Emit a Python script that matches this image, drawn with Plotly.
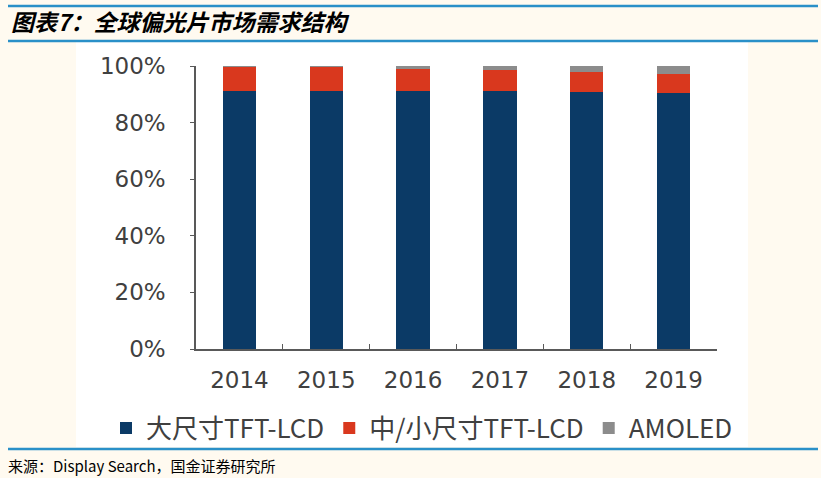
import plotly.graph_objects as go

# 年份和各类占比
years = ["2014", "2015", "2016", "2017", "2018", "2019"]
large_tft = [0.91, 0.91, 0.91, 0.91, 0.908, 0.905]
small_tft = [0.088, 0.087, 0.08, 0.075, 0.071, 0.065]
amoled = [0.002, 0.003, 0.01, 0.015, 0.021, 0.03]

series = [
    ("大尺寸TFT-LCD", large_tft, "#0b3a66"),
    ("中/小尺寸TFT-LCD", small_tft, "#d9381e"),
    ("AMOLED", amoled, "#8c8c8c"),
]

tick_font = dict(family="DejaVu Sans", size=23, color="#404040")
line_blue = "#2a90c8"

# 绘图区: x 196..717, y 66..349 (像素)
PL, PR, PT, PB = 196, 717, 66, 349
PW, PH = PR - PL, PB - PT


def px(x):
    return (x - PL) / PW


def py(y):
    return (PB - y) / PH


fig = go.Figure()
for name, vals, color in series:
    fig.add_trace(go.Bar(
        x=years, y=vals, name=name,
        marker=dict(color=color, line=dict(width=0)),
        width=0.385,
    ))

fig.update_layout(
    width=821, height=478,
    barmode="stack",
    paper_bgcolor="#fffaf0",
    plot_bgcolor="white",
    margin=dict(l=PL, r=821 - PR, t=PT, b=478 - PB, autoexpand=False),
    showlegend=True,
    legend=dict(
        orientation="h", x=px(106), xref="paper", xanchor="left",
        y=py(428), yanchor="middle",
        font=dict(family="Noto Sans CJK SC", size=26, color="#404040"),
        itemwidth=30, traceorder="normal",
        bgcolor="rgba(0,0,0,0)",
    ),
    font=dict(family="Noto Sans CJK SC"),
)

fig.update_xaxes(
    type="category",
    showline=True, linecolor="#595959", linewidth=1.5,
    ticks="inside", ticklen=5, tickcolor="#595959",
    tickson="boundaries",
    tickfont=tick_font,
    ticklabelstandoff=10,
    showgrid=False,
)
fig.update_yaxes(
    range=[0, 1],
    tickvals=[0, 0.2, 0.4, 0.6, 0.8, 1.0],
    tickformat=".0%",
    showline=True, linecolor="#595959", linewidth=1.5,
    ticks="outside", ticklen=4, tickcolor="#595959",
    tickfont=tick_font,
    showgrid=False, zeroline=False,
    ticklabelstandoff=20,
)

# 白色图片区域与蓝色分隔线
fig.add_shape(type="rect", xref="paper", yref="paper",
              x0=px(76), x1=px(748), y0=py(447), y1=py(41),
              fillcolor="white", line=dict(width=0), layer="below")
for yy in [6, 41, 449]:
    fig.add_shape(type="line", xref="paper", yref="paper",
                  x0=px(8), x1=px(818), y0=py(yy), y1=py(yy),
                  line=dict(color=line_blue, width=2.5), layer="below")

fig.add_annotation(
    text="<b><i>图表7：全球偏光片市场需求结构</i></b>",
    xref="paper", yref="paper", x=px(9), y=py(21),
    xanchor="left", yanchor="middle", showarrow=False,
    font=dict(family="Noto Sans CJK SC", size=23, color="black"),
)
fig.add_annotation(
    text="来源：Display Search，国金证券研究所",
    xref="paper", yref="paper", x=px(6), y=py(465),
    xanchor="left", yanchor="middle", showarrow=False,
    font=dict(family="Noto Sans CJK SC", size=15, color="black"),
)

# 去掉页面默认边距，让图从左上角开始
fig.write_html("out.html", config={"displayModeBar": False},
               post_script="document.body.style.margin='0';")
